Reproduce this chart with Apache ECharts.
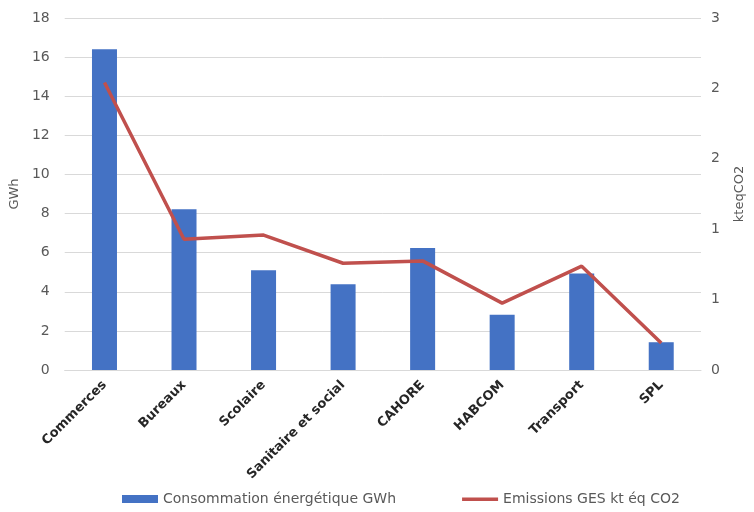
<!DOCTYPE html>
<html><head><meta charset="utf-8">
<script src="https://cdn.jsdelivr.net/npm/echarts@6/dist/echarts.min.js"></script>
<style>html,body{margin:0;padding:0;background:#fff}#c{width:754px;height:512px}</style>
</head><body><div id="c"></div>
<script>
const categories = ['Commerces','Bureaux','Scolaire','Sanitaire et social','CAHORE','HABCOM','Transport','SPL'];
const consumption = [16.4, 8.22, 5.1, 4.39, 6.24, 2.83, 4.94, 1.42];
const emissions = [2.45, 1.115, 1.15, 0.91, 0.93, 0.57, 0.885, 0.23];
const seriesNames = ['Consommation énergétique GWh', 'Emissions GES kt éq CO2'];
const leftAxisName = 'GWh';
const rightAxisName = 'kteqCO2';

const font = '"DejaVu Sans", sans-serif';
const chart = echarts.init(document.getElementById('c'));
chart.setOption({
  animation: false,
  textStyle: {fontFamily: font},
  grid: {left: 63, right: 46, top: 18, bottom: 142},
  legend: {
    bottom: 6, left: 122, padding: 0, itemGap: 66, itemWidth: 36, itemHeight: 8,
    textStyle: {color: '#595959', fontSize: 14, fontFamily: font},
    data: [
      {name: seriesNames[0], icon: 'rect'},
      {name: seriesNames[1], icon: 'path://M0,2.5h36v3.5h-36z M0,0h0.01v8h-0.01z'}
    ]
  },
  xAxis: {
    type: 'category', data: categories,
    axisTick: {show: false},
    axisLine: {lineStyle: {color: '#d9d9d9'}},
    axisLabel: {rotate: 45, color: '#262626', fontWeight: 'bold', fontSize: 13, fontFamily: font, margin: 13, interval: 0}
  },
  yAxis: [
    {type: 'value', min: 0, max: 18, interval: 2,
     name: leftAxisName, nameLocation: 'middle', nameGap: 43, nameRotate: 90,
     nameTextStyle: {color: '#595959', fontSize: 13, fontFamily: font},
     axisLabel: {color: '#595959', fontSize: 14, fontFamily: font, margin: 15},
     axisLine: {show: false}, axisTick: {show: false},
     splitLine: {lineStyle: {color: '#d9d9d9'}}},
    {type: 'value', min: 0, max: 3, interval: 0.6,
     name: rightAxisName, nameLocation: 'middle', nameGap: 32, nameRotate: 90,
     nameTextStyle: {color: '#595959', fontSize: 13, fontFamily: font},
     axisLabel: {color: '#595959', fontSize: 14, fontFamily: font, margin: 10,
       formatter: v => String(Math.round(v))},
     axisLine: {show: false}, axisTick: {show: false},
     splitLine: {show: false}}
  ],
  series: [
    {name: seriesNames[0], type: 'bar', data: consumption, barWidth: 25,
     itemStyle: {color: '#4472c4'}},
    {name: seriesNames[1], type: 'line', yAxisIndex: 1, data: emissions,
     symbol: 'none', lineStyle: {color: '#c0504d', width: 3.5}, itemStyle: {color: '#c0504d'}}
  ]
});
</script></body></html>
